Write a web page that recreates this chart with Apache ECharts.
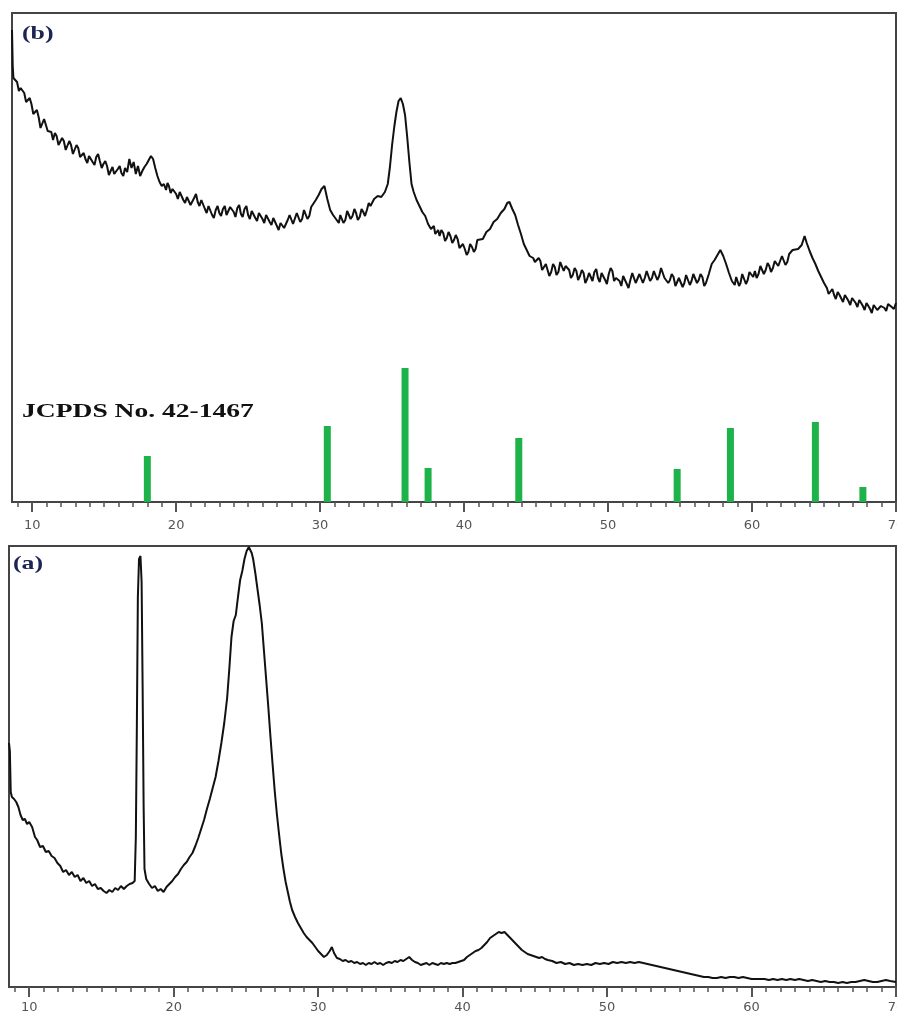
<!DOCTYPE html>
<html>
<head>
<meta charset="utf-8">
<script src="https://cdn.jsdelivr.net/npm/echarts@6/dist/echarts.min.js"></script>
<style>
  html, body { margin: 0; padding: 0; background: #fff; }
  #chart { width: 897px; height: 1012px; }
</style>
</head>
<body>
<div id="chart"></div>
<script>
// XRD patterns on a shared 2θ scale: (b) calcined product with reference lines, (a) precursor.
const twoThetaMin = 8.6;
const twoThetaMax = 70;
const majorTicks = [10, 20, 30, 40, 50, 60, 70];
const minorTicks = [9, 11, 12, 13, 14, 15, 16, 17, 18, 19, 21, 22, 23, 24, 25, 26, 27, 28, 29,
  31, 32, 33, 34, 35, 36, 37, 38, 39, 41, 42, 43, 44, 45, 46, 47, 48, 49,
  51, 52, 53, 54, 55, 56, 57, 58, 59, 61, 62, 63, 64, 65, 66, 67, 68, 69];

const panelLabels = ['(b)', '(a)'];
const refCardLabel = 'JCPDS No. 42-1467';

// Pattern (b): [2θ, intensity a.u.]
const patternB = [
  [8.6,472],[8.65,436],[8.7,424],[8.95,420],[9.08,411],[9.2,414],[9.33,416],[9.45,409],[9.58,400],[9.7,401],
  [9.83,404],[9.95,398],[10.08,388],[10.2,390],[10.33,392],[10.45,385],[10.58,374],[10.7,374],[10.83,383],[10.95,381],
  [11.08,371],[11.2,372],[11.33,370],[11.45,362],[11.58,369],[11.7,366],[11.83,357],[11.95,358],[12.08,364],[12.2,361],
  [12.33,352],[12.45,354],[12.58,361],[12.7,357],[12.83,348],[12.95,350],[13.08,357],[13.2,354],[13.33,345],[13.45,347],
  [13.58,349],[13.7,343],[13.83,339],[13.95,346],[14.08,348],[14.2,340],[14.33,337],[14.45,345],[14.58,348],[14.7,341],
  [14.83,334],[14.95,338],[15.08,341],[15.2,336],[15.33,327],[15.45,331],[15.58,335],[15.7,328],[15.83,326],[15.95,333],
  [16.08,336],[16.2,329],[16.33,326],[16.45,334],[16.6,330],[16.75,343],[16.9,334],[17.05,340],[17.2,328],[17.35,336],
  [17.5,326],[17.65,331],[17.8,335],[17.95,338],[18.1,342],[18.25,346],[18.4,343],[18.55,334],[18.7,326],[18.85,320],
  [19.0,316],[19.15,318],[19.3,312],[19.4,319],[19.5,316],[19.62,309],[19.75,313],[19.88,315],[20.0,308],[20.12,303],
  [20.25,310],[20.38,311],[20.5,302],[20.62,299],[20.75,305],[20.88,306],[21.0,297],[21.12,295],[21.25,304],[21.38,308],
  [21.5,300],[21.62,296],[21.75,302],[21.88,303],[22.0,293],[22.12,289],[22.25,296],[22.38,297],[22.5,287],[22.62,284],
  [22.75,292],[22.88,296],[23.0,289],[23.12,286],[23.25,293],[23.38,296],[23.5,287],[23.62,285],[23.75,295],[23.88,297],
  [24.0,290],[24.12,285],[24.25,294],[24.38,297],[24.5,288],[24.62,285],[24.75,293],[24.88,296],[25.0,287],[25.12,283],
  [25.25,291],[25.38,293],[25.5,284],[25.62,281],[25.75,289],[25.88,291],[26.0,283],[26.12,279],[26.25,287],[26.38,288],
  [26.5,280],[26.62,277],[26.75,284],[26.88,285],[27.0,276],[27.12,272],[27.25,279],[27.38,281],[27.5,274],[27.62,272],
  [27.75,282],[27.88,287],[28.0,286],[28.12,278],[28.25,280],[28.38,289],[28.5,288],[28.62,280],[28.75,283],[28.88,292],
  [29.0,290],[29.12,283],[29.25,286],[29.38,295],[29.5,293],[29.7,302],[29.9,307],[30.1,313],[30.3,316],[30.5,303],
  [30.7,292],[30.9,287],[31.1,283],[31.3,279],[31.4,287],[31.5,285],[31.62,279],[31.75,282],[31.88,291],[32.0,290],
  [32.12,283],[32.25,286],[32.38,293],[32.5,289],[32.62,282],[32.75,285],[32.88,293],[33.0,290],[33.12,286],[33.25,292],
  [33.38,299],[33.5,296],[33.75,303],[34.0,306],[34.25,305],[34.5,310],[34.7,318],[34.85,335],[35.0,357],[35.15,375],
  [35.3,390],[35.45,401],[35.6,404],[35.75,398],[35.9,387],[36.05,365],[36.2,340],[36.35,318],[36.5,310],[36.7,302],
  [36.9,296],[37.1,290],[37.3,286],[37.5,278],[37.7,273],[37.9,276],[38.0,268],[38.1,270],[38.2,272],[38.3,266],
  [38.42,272],[38.55,269],[38.68,261],[38.8,264],[38.92,270],[39.05,266],[39.18,259],[39.3,262],[39.42,267],[39.55,263],
  [39.68,254],[39.8,256],[39.92,258],[40.05,253],[40.18,247],[40.3,250],[40.42,258],[40.55,255],[40.68,250],[40.8,253],
  [40.92,262],[41.05,260],[41.3,263],[41.55,270],[41.8,273],[42.05,280],[42.3,283],[42.55,289],[42.8,293],[43.0,299],
  [43.15,300],[43.35,293],[43.55,287],[43.75,277],[43.95,268],[44.15,258],[44.35,252],[44.55,246],[44.8,244],[44.92,240],
  [45.05,238],[45.18,244],[45.3,241],[45.42,232],[45.55,235],[45.68,238],[45.8,232],[45.92,226],[46.05,230],[46.18,238],
  [46.3,235],[46.42,227],[46.55,230],[46.68,240],[46.8,238],[46.92,231],[47.05,236],[47.18,237],[47.3,232],[47.42,224],
  [47.55,227],[47.68,234],[47.8,231],[47.92,222],[48.05,226],[48.18,232],[48.3,229],[48.42,219],[48.55,223],[48.68,229],
  [48.8,225],[48.92,221],[49.05,230],[49.18,233],[49.3,224],[49.42,220],[49.55,229],[49.68,231],[49.8,222],[49.92,218],
  [50.05,228],[50.18,234],[50.3,231],[50.42,221],[50.55,224],[50.68,226],[50.8,221],[50.92,216],[51.05,226],[51.18,228],
  [51.3,218],[51.42,214],[51.55,222],[51.68,229],[51.8,228],[51.92,219],[52.05,220],[52.18,228],[52.3,226],[52.42,219],
  [52.55,224],[52.68,231],[52.8,230],[52.92,221],[53.05,224],[53.18,231],[53.3,229],[53.42,222],[53.55,226],[53.68,234],
  [53.8,232],[53.92,224],[54.05,226],[54.18,219],[54.3,222],[54.42,228],[54.55,225],[54.68,216],[54.8,217],[54.92,224],
  [55.05,222],[55.18,215],[55.3,219],[55.42,227],[55.55,225],[55.68,217],[55.8,221],[55.92,228],[56.05,226],[56.18,219],
  [56.3,222],[56.42,228],[56.55,225],[56.68,216],[56.8,219],[57.0,228],[57.2,238],[57.4,242],[57.6,247],[57.8,252],
  [58.0,246],[58.2,238],[58.4,229],[58.6,221],[58.8,217],[58.9,225],[59.0,224],[59.1,216],[59.2,219],[59.32,228],
  [59.45,226],[59.58,218],[59.7,222],[59.82,230],[59.95,229],[60.08,225],[60.2,231],[60.32,224],[60.45,228],[60.58,236],
  [60.7,234],[60.82,228],[60.95,232],[61.08,239],[61.2,236],[61.32,230],[61.45,234],[61.58,241],[61.7,243],[61.82,236],
  [61.95,238],[62.08,246],[62.2,244],[62.32,237],[62.45,240],[62.58,248],[62.7,246],[62.82,252],[62.95,250],[63.2,253],
  [63.45,257],[63.65,266],[63.8,259],[64.0,251],[64.2,244],[64.4,238],[64.6,231],[64.8,225],[65.0,219],[65.2,214],
  [65.32,208],[65.45,209],[65.58,213],[65.7,207],[65.82,203],[65.95,210],[66.08,207],[66.2,205],[66.32,200],[66.45,207],
  [66.58,204],[66.7,201],[66.82,197],[66.95,204],[67.08,202],[67.2,199],[67.32,195],[67.45,202],[67.58,199],[67.7,196],
  [67.82,192],[67.95,199],[68.08,196],[68.2,193],[68.32,189],[68.45,197],[68.58,195],[68.7,192],[68.82,190],[68.95,196],
  [69.08,198],[69.2,194],[69.32,191],[69.45,198],[69.58,200],[69.7,195],[69.85,193],[70.0,199]
];

// Reference card line positions (2θ) and relative heights (same a.u. as pattern b)
const refPositions = [18.0, 30.5, 35.9, 37.5, 43.8, 54.8, 58.5, 64.4, 67.7];
const refHeights = [46, 76, 134, 34, 64, 33, 74, 80, 15];

// Pattern (a): [2θ, intensity a.u.]
const patternA = [
  [8.6,244],[8.66,236],[8.72,195],[8.8,190],[8.95,188],[9.1,185],[9.25,180],[9.4,172],[9.55,167],[9.7,168],
  [9.85,163],[10.0,165],[10.2,160],[10.4,150],[10.55,147],[10.75,140],[10.95,141],[11.15,135],[11.35,136],[11.55,131],
  [11.75,129],[11.95,124],[12.15,121],[12.35,115],[12.55,117],[12.75,112],[12.95,115],[13.15,110],[13.35,112],[13.55,106],
  [13.75,109],[13.95,104],[14.15,106],[14.35,101],[14.55,103],[14.75,98],[14.95,99],[15.15,96],[15.35,94],[15.55,97],
  [15.75,95],[15.95,99],[16.15,97],[16.35,101],[16.55,98],[16.75,101],[16.95,103],[17.15,104],[17.3,106],[17.38,150],
  [17.45,260],[17.52,390],[17.6,428],[17.7,431],[17.78,405],[17.85,300],[17.92,180],[17.98,118],[18.1,108],[18.3,103],
  [18.5,99],[18.7,101],[18.9,96],[19.1,98],[19.3,95],[19.5,100],[19.7,103],[19.9,106],[20.1,110],[20.3,113],
  [20.5,118],[20.7,122],[20.9,125],[21.1,130],[21.3,134],[21.5,141],[21.7,149],[21.9,158],[22.1,167],[22.3,178],
  [22.5,188],[22.7,199],[22.9,210],[23.1,226],[23.3,244],[23.5,264],[23.7,289],[23.85,318],[24.0,350],[24.15,366],
  [24.3,372],[24.45,390],[24.6,407],[24.75,416],[24.9,428],[25.05,436],[25.2,440],[25.3,438],[25.4,434],[25.5,428],
  [25.65,414],[25.8,398],[25.95,382],[26.1,364],[26.25,336],[26.4,308],[26.55,280],[26.7,250],[26.85,222],[27.0,195],
  [27.15,172],[27.3,152],[27.45,133],[27.6,118],[27.75,105],[27.9,95],[28.05,85],[28.2,77],[28.4,70],[28.6,64],
  [28.8,59],[29.0,54],[29.2,50],[29.4,47],[29.6,44],[29.8,40],[30.0,36],[30.2,33],[30.4,30],[30.6,32],
  [30.8,36],[30.95,40],[31.1,34],[31.3,29],[31.5,28],[31.7,26],[31.9,27],[32.1,25],[32.3,26],[32.5,24],
  [32.7,25],[32.9,23],[33.1,24],[33.3,22],[33.5,24],[33.7,23],[33.9,25],[34.1,23],[34.3,24],[34.5,22],
  [34.7,24],[34.9,25],[35.1,24],[35.3,26],[35.5,25],[35.7,27],[35.9,26],[36.1,28],[36.3,30],[36.5,27],
  [36.7,25],[36.9,24],[37.1,22],[37.3,23],[37.5,24],[37.7,22],[37.9,24],[38.1,23],[38.3,22],[38.5,24],
  [38.7,23],[38.9,24],[39.1,23],[39.3,24],[39.5,24],[39.7,25],[39.9,26],[40.1,27],[40.3,30],[40.5,32],
  [40.7,34],[40.9,36],[41.1,37],[41.3,39],[41.5,42],[41.7,45],[41.9,49],[42.1,51],[42.3,53],[42.5,55],
  [42.7,54],[42.9,55],[43.1,52],[43.3,49],[43.5,46],[43.7,43],[43.9,40],[44.1,37],[44.3,35],[44.5,33],
  [44.7,32],[44.9,31],[45.1,30],[45.3,29],[45.5,30],[45.7,28],[45.9,27],[46.2,26],[46.5,24],[46.8,25],
  [47.1,23],[47.4,24],[47.7,22],[48.0,23],[48.3,22],[48.6,23],[48.9,22],[49.2,24],[49.5,23],[49.8,24],
  [50.1,23],[50.4,25],[50.7,24],[51.0,25],[51.3,24],[51.6,25],[51.9,24],[52.2,25],[52.5,24],[52.8,23],
  [53.1,22],[53.4,21],[53.7,20],[54.0,19],[54.3,18],[54.6,17],[54.9,16],[55.2,15],[55.5,14],[55.8,13],
  [56.1,12],[56.4,11],[56.7,10],[57.0,10],[57.3,9],[57.6,9],[57.9,10],[58.2,9],[58.5,10],[58.8,10],
  [59.1,9],[59.4,10],[59.7,9],[60.0,8],[60.3,8],[60.6,8],[60.9,8],[61.2,7],[61.5,8],[61.8,7],
  [62.1,8],[62.4,7],[62.7,8],[63.0,7],[63.3,8],[63.6,7],[63.9,6],[64.2,7],[64.5,6],[64.8,5],
  [65.1,6],[65.4,5],[65.7,5],[66.0,4],[66.3,5],[66.6,4],[66.9,5],[67.2,5],[67.5,6],[67.8,7],
  [68.1,6],[68.4,5],[68.7,5],[69.0,6],[69.3,7],[69.6,6],[70.0,5]
];

const frameColor = '#444';
const tickColor = '#555';

function majorAxis(gridIndex, labelMargin) {
  return {
    type: 'value', gridIndex: gridIndex, position: 'bottom',
    min: twoThetaMin, max: twoThetaMax,
    axisLine: { show: false },
    splitLine: { show: false },
    axisTick: { show: true, customValues: majorTicks, length: 10, lineStyle: { color: tickColor, width: 2 } },
    axisLabel: {
      show: true, customValues: majorTicks, margin: labelMargin,
      color: tickColor, fontSize: 13, fontFamily: 'DejaVu Sans',
      showMinLabel: true, showMaxLabel: true
    }
  };
}

function minorAxis(gridIndex) {
  return {
    type: 'value', gridIndex: gridIndex, position: 'bottom',
    min: twoThetaMin, max: twoThetaMax,
    axisLine: { show: false },
    splitLine: { show: false },
    axisLabel: { show: false },
    axisTick: { show: true, customValues: minorTicks, length: 5, lineStyle: { color: tickColor, width: 1.5 } }
  };
}

function panelText(x, y, text, size, color, stretch) {
  return {
    type: 'text', x: x, y: y, scaleX: stretch, z: 100,
    style: {
      text: text, x: 0, y: 0,
      font: 'bold ' + size + 'px "Liberation Serif", "Times New Roman", serif',
      fill: color,
      align: 'left', verticalAlign: 'middle',
      textAlign: 'left', textVerticalAlign: 'middle'
    }
  };
}

const chart = echarts.init(document.getElementById('chart'), null, { renderer: 'canvas' });

chart.setOption({
  animation: false,
  backgroundColor: '#fff',
  grid: [
    { left: 12, top: 13, width: 884, height: 489, show: true, borderColor: frameColor, borderWidth: 2,
      containLabel: false, outerBoundsMode: 'none' },
    { left: 9, top: 546, width: 887, height: 441, show: true, borderColor: frameColor, borderWidth: 2,
      containLabel: false, outerBoundsMode: 'none' }
  ],
  xAxis: [majorAxis(0, 17), minorAxis(0), majorAxis(1, 14), minorAxis(1)],
  yAxis: [
    { type: 'value', gridIndex: 0, min: 0, max: 489, show: false },
    { type: 'value', gridIndex: 1, min: 0, max: 441, show: false }
  ],
  series: [
    {
      name: 'b', type: 'line', xAxisIndex: 0, yAxisIndex: 0,
      data: patternB, showSymbol: false, symbol: 'none',
      lineStyle: { color: '#111', width: 2 }
    },
    {
      name: 'ref', type: 'bar', xAxisIndex: 0, yAxisIndex: 0,
      data: refPositions.map(function (p, i) { return [p, refHeights[i]]; }),
      barWidth: 7,
      itemStyle: { color: '#1db34a' }
    },
    {
      name: 'a', type: 'line', xAxisIndex: 2, yAxisIndex: 1,
      data: patternA, showSymbol: false, symbol: 'none',
      lineStyle: { color: '#111', width: 2 }
    }
  ],
  graphic: [
    panelText(22, 34, panelLabels[0], 19, '#1c2452', 1.36),
    panelText(13, 564, panelLabels[1], 19, '#1c2452', 1.36),
    panelText(22, 412, refCardLabel, 19, '#111', 1.45)
  ]
});
</script>
</body>
</html>
